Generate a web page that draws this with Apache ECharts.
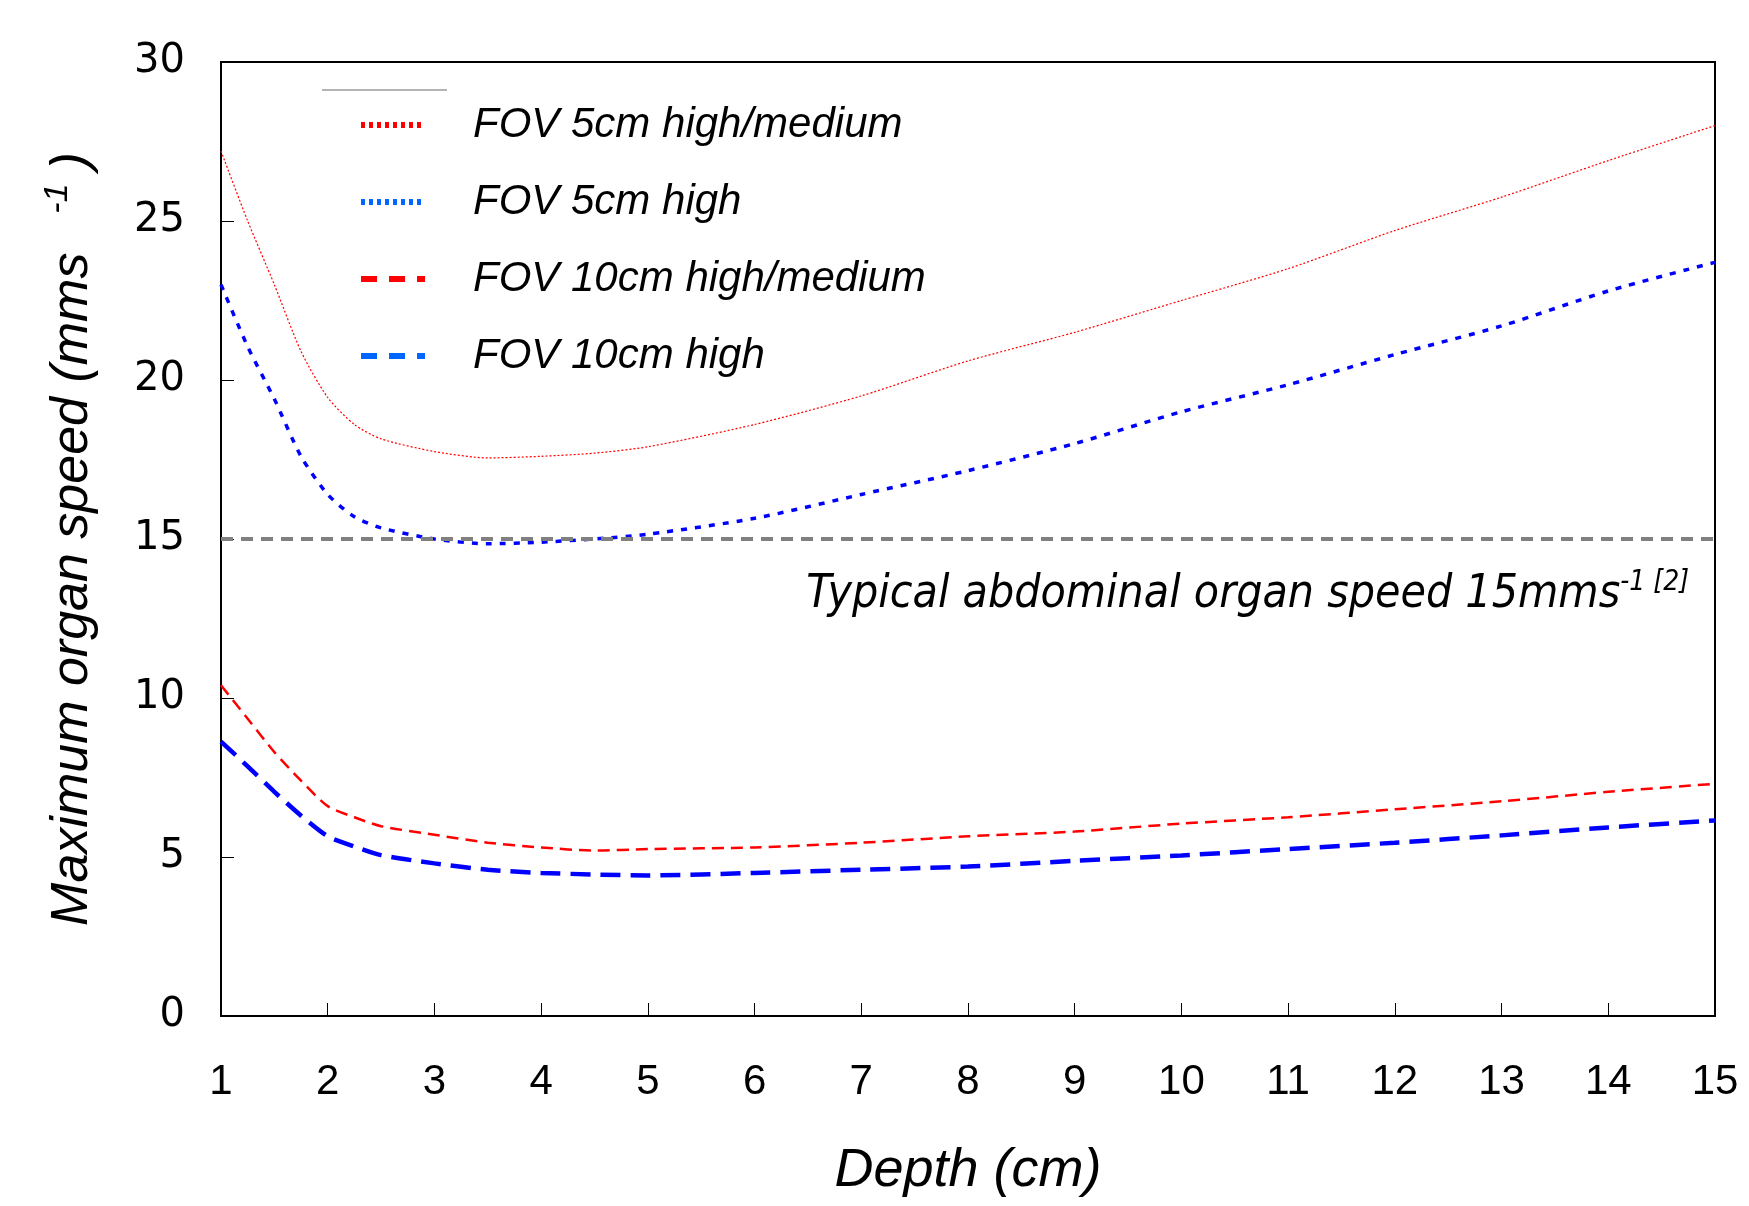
<!DOCTYPE html>
<html>
<head>
<meta charset="utf-8">
<title>Maximum organ speed</title>
<script src="https://cdn.jsdelivr.net/npm/echarts@6/dist/echarts.min.js"></script>
<style>
    html, body { margin: 0; padding: 0; background: #fff; }
    #main { width: 1749px; height: 1206px; }
</style>
</head>
<body>
<div id="main"></div>
<script>
// 深度 (cm)
var depth = [1, 1.25, 1.5, 1.75, 2, 2.25, 2.5, 3, 3.5, 4, 4.5, 5, 6, 7, 8, 9, 10, 11, 12, 13, 14, 15];
// 各曲线的最大器官速度 (mm/s)
var fov5HighMedium = [27.2, 25.0, 23.0, 20.9, 19.45, 18.6, 18.15, 17.75, 17.55, 17.6, 17.7, 17.9, 18.6, 19.5, 20.6, 21.5, 22.5, 23.5, 24.7, 25.75, 26.9, 28.0];
var fov5High = [23.0, 21.05, 19.4, 17.6, 16.4, 15.7, 15.35, 15.0, 14.85, 14.9, 15.0, 15.15, 15.65, 16.4, 17.15, 18.0, 19.0, 19.85, 20.8, 21.7, 22.8, 23.7];
var fov10HighMedium = [10.4, 9.35, 8.3, 7.4, 6.6, 6.25, 5.97, 5.7, 5.45, 5.3, 5.2, 5.25, 5.3, 5.45, 5.65, 5.8, 6.05, 6.25, 6.5, 6.75, 7.05, 7.3];
var fov10High = [8.63, 7.85, 7.05, 6.3, 5.65, 5.33, 5.06, 4.8, 4.6, 4.5, 4.45, 4.42, 4.5, 4.6, 4.7, 4.88, 5.05, 5.25, 5.45, 5.68, 5.93, 6.15];
// 参考线
var typicalSpeed = 15;
var seriesNames = ['FOV 5cm high/medium', 'FOV 5cm high', 'FOV 10cm high/medium', 'FOV 10cm high'];

(function () {
    var myChart = echarts.init(document.getElementById('main'));

    // x,y 配对
    function pairs(values) {
        return depth.map(function (d, i) { return [d, values[i]]; });
    }

    var hideSymbol = { opacity: 0 };

    var option = {
        animation: false,
        grid: {
            left: 221,
            top: 62,
            right: 34,
            bottom: 190,
            show: true,
            borderColor: '#000',
            borderWidth: 2
        },
        legend: {
            orient: 'vertical',
            left: 353,
            top: 99,
            itemWidth: 64,
            itemHeight: 20,
            itemGap: 35,
            textStyle: {
                fontFamily: 'Liberation Sans',
                fontStyle: 'italic',
                fontSize: 42,
                color: '#000',
                padding: [0, 0, 0, 43]
            },
            data: [
                { name: seriesNames[0], itemStyle: hideSymbol, lineStyle: { color: '#ff0000', width: 6, type: [4, 4] } },
                { name: seriesNames[1], itemStyle: hideSymbol, lineStyle: { color: '#0066ff', width: 6, type: [4, 4] } },
                { name: seriesNames[2], itemStyle: hideSymbol, lineStyle: { color: '#ff0000', width: 6, type: [16, 12] } },
                { name: seriesNames[3], itemStyle: hideSymbol, lineStyle: { color: '#0066ff', width: 6, type: [16, 12] } }
            ]
        },
        xAxis: {
            type: 'value',
            min: 1,
            max: 15,
            interval: 1,
            name: 'Depth (cm)',
            nameLocation: 'middle',
            nameGap: 128,
            nameTextStyle: {
                fontFamily: 'Liberation Sans',
                fontStyle: 'italic',
                fontSize: 54,
                color: '#000'
            },
            axisLine: { lineStyle: { color: '#000', width: 2 } },
            axisTick: { inside: true, length: 13, lineStyle: { color: '#000', width: 1 } },
            axisLabel: {
                margin: 45,
                fontFamily: 'Liberation Sans',
                fontSize: 42,
                color: '#000'
            },
            splitLine: { show: false }
        },
        yAxis: {
            type: 'value',
            min: 0,
            max: 30,
            interval: 5,
            name: '{a|Maximum organ speed (mms  }{sup|-1}{a|)}',
            nameLocation: 'middle',
            nameGap: 116,
            nameTextStyle: {
                color: '#000',
                rich: {
                    a: {
                        fontFamily: 'Liberation Sans',
                        fontStyle: 'italic',
                        fontSize: 52,
                        color: '#000'
                    },
                    sup: {
                        fontFamily: 'Liberation Sans',
                        fontStyle: 'italic',
                        fontSize: 34,
                        color: '#000',
                        padding: [0, 14, 30, 10]
                    }
                }
            },
            axisLine: { show: true, lineStyle: { color: '#000', width: 2 } },
            axisTick: { inside: true, length: 13, lineStyle: { color: '#000', width: 1 } },
            axisLabel: {
                margin: 36,
                fontFamily: 'DejaVu Sans',
                fontSize: 40,
                color: '#000'
            },
            splitLine: { show: false }
        },
        series: [{
            name: seriesNames[0],
            type: 'line',
            data: pairs(fov5HighMedium),
            smooth: 0.25,
            symbol: 'none',
            lineStyle: { color: '#ff0000', width: 1.2, type: [2, 2] },
            itemStyle: { color: '#ff0000' },
            z: 3
        }, {
            name: seriesNames[1],
            type: 'line',
            data: pairs(fov5High),
            smooth: 0.25,
            symbol: 'none',
            lineStyle: { color: '#0000ff', width: 3.5, type: [6, 8] },
            itemStyle: { color: '#0066ff' },
            z: 3
        }, {
            name: seriesNames[2],
            type: 'line',
            data: pairs(fov10HighMedium),
            smooth: 0.25,
            symbol: 'none',
            lineStyle: { color: '#ff0000', width: 2.5, type: [12, 7] },
            itemStyle: { color: '#ff0000' },
            z: 3
        }, {
            name: seriesNames[3],
            type: 'line',
            data: pairs(fov10High),
            smooth: 0.25,
            symbol: 'none',
            lineStyle: { color: '#0000ff', width: 4.5, type: [20, 10] },
            itemStyle: { color: '#0066ff' },
            z: 3,
            // 典型腹部器官速度参考线
            markLine: {
                silent: true,
                symbol: 'none',
                lineStyle: { color: '#808080', width: 4, type: [12, 8] },
                label: {
                    position: 'insideEndBottom',
                    distance: [26, 30],
                    formatter: '{a|Typical abdominal organ speed 15mms}{sup|-1 [2]}',
                    rich: {
                        a: {
                            fontFamily: 'DejaVu Sans Condensed',
                            fontStyle: 'italic',
                            fontSize: 46,
                            color: '#000'
                        },
                        sup: {
                            fontFamily: 'DejaVu Sans Condensed',
                            fontStyle: 'italic',
                            fontSize: 28,
                            color: '#000',
                            padding: [0, 0, 24, 0]
                        }
                    }
                },
                data: [{ yAxis: typicalSpeed }]
            }
        }],
        // 图例上方的灰色短线
        graphic: [{
            type: 'line',
            shape: { x1: 322, y1: 90, x2: 447, y2: 90 },
            style: { stroke: '#b4b4b4', lineWidth: 2 }
        }]
    };

    myChart.setOption(option);
})();
</script>
</body>
</html>
